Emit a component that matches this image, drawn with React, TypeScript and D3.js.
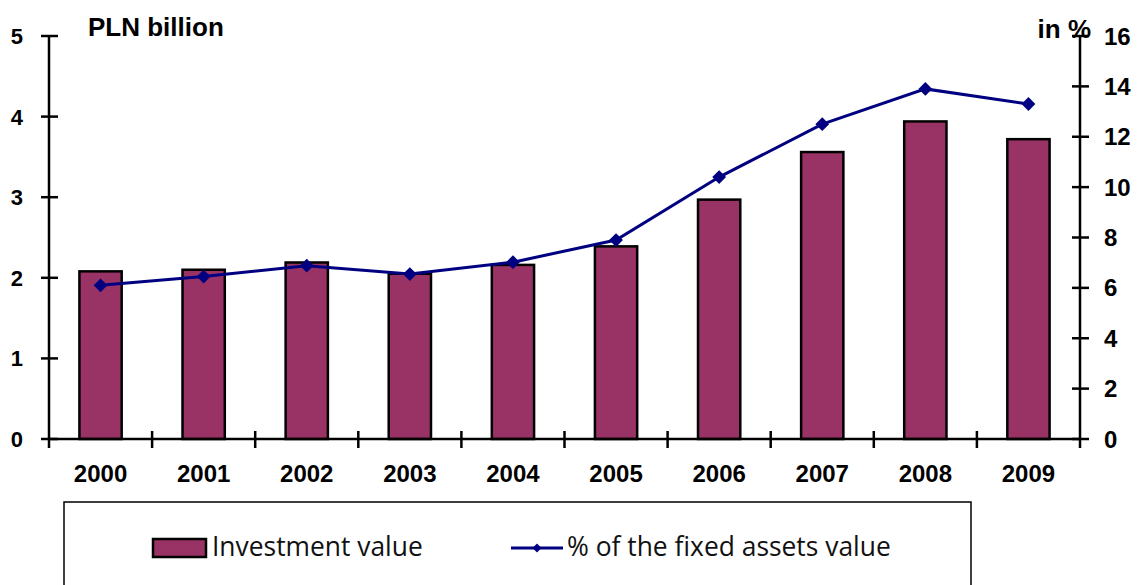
import React, { useEffect, useRef } from 'react';
import * as d3 from 'd3';

const years = ['2000', '2001', '2002', '2003', '2004', '2005', '2006', '2007', '2008', '2009'];
const investment = [2.08, 2.1, 2.19, 2.05, 2.16, 2.39, 2.97, 3.56, 3.94, 3.72];
const percentFixed = [6.1, 6.45, 6.88, 6.55, 7.02, 7.9, 10.4, 12.5, 13.9, 13.3];
const leftTicks = [0, 1, 2, 3, 4, 5];
const rightTicks = [0, 2, 4, 6, 8, 10, 12, 14, 16];

const FONT = '"Liberation Sans", Arial, sans-serif';
const LEGEND_FONT = '"Open Sans", "Liberation Sans", sans-serif';

const App = () => {
  const ref = useRef<SVGSVGElement>(null);

  useEffect(() => {
    const svg = d3.select(ref.current);
    svg.selectAll('*').remove();

    const left = 49, right = 1080, top = 36, bottom = 439;

    const x = d3.scaleBand().domain(years).range([left, right]).paddingInner(0.59).paddingOuter(0.295);
    const xPoint = (d: string) => (x(d) as number) + x.bandwidth() / 2;
    const yL = d3.scaleLinear().domain([0, 5]).range([bottom, top]);
    const yR = d3.scaleLinear().domain([0, 16]).range([bottom, top]);
    const step = (right - left) / years.length;

    // bars
    svg.append('g')
      .selectAll('rect')
      .data(investment)
      .enter()
      .append('rect')
      .attr('x', (d, i) => x(years[i]) as number)
      .attr('y', d => yL(d))
      .attr('width', x.bandwidth())
      .attr('height', d => bottom - yL(d))
      .attr('fill', '#993366')
      .attr('stroke', '#000')
      .attr('stroke-width', 2.5);

    // axes
    const axes = svg.append('g').attr('stroke', '#000').attr('stroke-width', 2.5);
    axes.append('line').attr('x1', left).attr('x2', right).attr('y1', bottom).attr('y2', bottom);
    axes.append('line').attr('x1', left).attr('x2', left).attr('y1', top).attr('y2', bottom + 9);
    axes.append('line').attr('x1', right).attr('x2', right).attr('y1', top).attr('y2', bottom + 9);

    axes.selectAll('.lt').data(leftTicks).enter().append('line')
      .attr('x1', left - 8).attr('x2', left + 9)
      .attr('y1', d => yL(d)).attr('y2', d => yL(d));
    axes.selectAll('.rt').data(rightTicks).enter().append('line')
      .attr('x1', right - 8).attr('x2', right + 9)
      .attr('y1', d => yR(d)).attr('y2', d => yR(d));
    axes.selectAll('.xt').data(d3.range(1, years.length)).enter().append('line')
      .attr('x1', d => left + d * step).attr('x2', d => left + d * step)
      .attr('y1', bottom - 8).attr('y2', bottom + 9);

    const labels = svg.append('g').attr('font-family', FONT).attr('font-weight', 'bold').attr('fill', '#000');

    labels.selectAll('.ll').data(leftTicks).enter().append('text')
      .attr('x', 23).attr('y', d => yL(d) + 8)
      .attr('text-anchor', 'end').attr('font-size', 22)
      .text(d => d);

    labels.selectAll('.rl').data(rightTicks).enter().append('text')
      .attr('x', 1104).attr('y', d => yR(d) + 8.5)
      .attr('text-anchor', 'start').attr('font-size', 24)
      .text(d => d);

    labels.selectAll('.xl').data(years).enter().append('text')
      .attr('x', d => xPoint(d)).attr('y', 482)
      .attr('text-anchor', 'middle').attr('font-size', 24)
      .text(d => d);

    labels.append('text').attr('x', 88).attr('y', 36).attr('font-size', 26).text('PLN billion');
    labels.append('text').attr('x', 1091).attr('y', 38).attr('text-anchor', 'end').attr('font-size', 26).text('in %');

    // line
    const line = d3.line<number>()
      .x((d, i) => xPoint(years[i]))
      .y(d => yR(d));

    svg.append('path')
      .datum(percentFixed)
      .attr('d', line)
      .attr('fill', 'none')
      .attr('stroke', '#000080')
      .attr('stroke-width', 3);

    const diamond = d3.symbol().type(d3.symbolSquare).size(95);
    svg.append('g')
      .selectAll('path')
      .data(percentFixed)
      .enter()
      .append('path')
      .attr('d', diamond)
      .attr('transform', (d, i) => `translate(${xPoint(years[i])},${yR(d)}) rotate(45)`)
      .attr('fill', '#000080');

    // legend
    const lg = svg.append('g');
    lg.append('rect').attr('x', 64).attr('y', 502).attr('width', 907).attr('height', 100)
      .attr('fill', '#fff').attr('stroke', '#000').attr('stroke-width', 1.5);
    lg.append('rect').attr('x', 153).attr('y', 539).attr('width', 53).attr('height', 18)
      .attr('fill', '#993366').attr('stroke', '#000').attr('stroke-width', 2.5);
    lg.append('text').attr('x', 212).attr('y', 556).attr('font-family', LEGEND_FONT).attr('font-size', 26.4)
      .attr('fill', '#111').text('Investment value');
    lg.append('line').attr('x1', 511).attr('x2', 563).attr('y1', 548).attr('y2', 548)
      .attr('stroke', '#000080').attr('stroke-width', 3);
    lg.append('path').attr('d', d3.symbol().type(d3.symbolSquare).size(40))
      .attr('transform', 'translate(537,548) rotate(45)').attr('fill', '#000080');
    lg.append('text').attr('x', 567).attr('y', 556).attr('font-family', LEGEND_FONT).attr('font-size', 26.4)
      .attr('fill', '#111').text('% of the fixed assets value');
  }, []);

  return <svg ref={ref} width={1139} height={585} style={{ position: 'absolute', left: 0, top: 0 }}></svg>;
};

export default App;
